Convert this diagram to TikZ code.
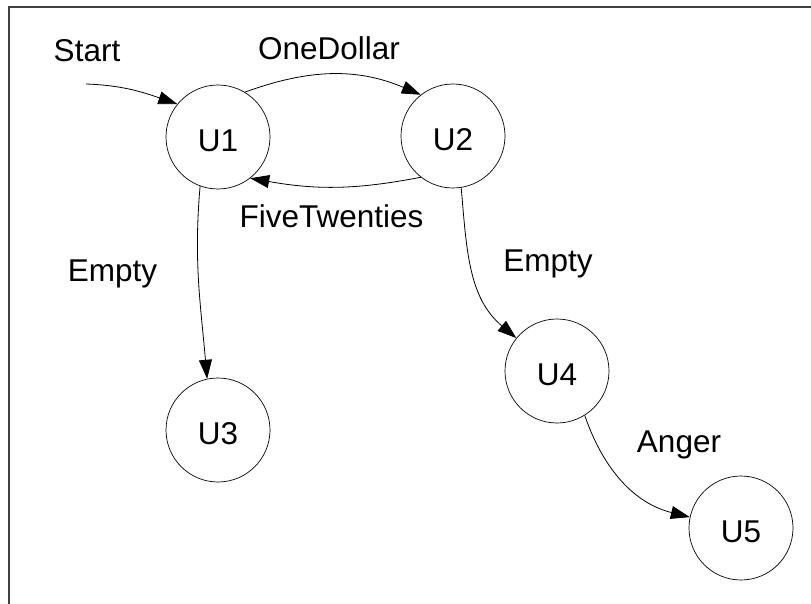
\documentclass[tikz,border=0pt]{standalone}
\usepackage{fontspec}
\setmainfont{Liberation Sans}
\usetikzlibrary{arrows.meta}
\definecolor{framecol}{HTML}{404040}
\tikzset{
  state/.style={circle, draw=black, line width=0.7pt, minimum size=104pt, inner sep=0pt,
    font=\fontsize{31.5}{38}\selectfont, text height=29pt, text depth=0pt},
  lbl/.style={anchor=base, inner sep=0pt, font=\fontsize{31.5}{38}\selectfont},
  edge/.style={draw=black, line width=0.8pt, -{Triangle[length=19pt,width=13pt]}}
}
\begin{document}
\begin{tikzpicture}[x=1pt,y=1pt]
\useasboundingbox (0,0) rectangle (811,-604);
\draw[framecol, line width=2pt] (9,-604) -- (9,-7) -- (811,-7);

\node[state] (U1) at (218,-137) {U1};
\node[state] (U2) at (453,-136) {U2};
\node[state] (U3) at (218,-430) {U3};
\node[state] (U4) at (557,-371) {U4};
\node[state] (U5) at (741,-528) {U5};
\coordinate (S) at (86,-84);

\draw[edge] (S) to[out=-2, in=161] (U1.141);
\draw[edge] (U1.59) to[out=20, in=157] (U2.128);
\draw[edge] (U2.232) to[out=191, in=-10] (U1.308);
\draw[edge] (U1.250) to[out=265, in=95] (U3.102);
\draw[edge] (U2.279) to[out=275, in=140] (U4.141);
\draw[edge] (U4.302) to[out=289, in=166] (U5.168);

\node[lbl] (lstart) at (87,-62) {Start};
\node[lbl] (lone) at (329,-60) {OneDollar};
\node[lbl] (lfive) at (331.5,-227) {FiveTwenties};
\node[lbl] (lempty1) at (112.5,-281) {Empty};
\node[lbl] (lempty2) at (548,-271) {Empty};
\node[lbl] (langer) at (679,-452) {Anger};
\end{tikzpicture}
\end{document}
